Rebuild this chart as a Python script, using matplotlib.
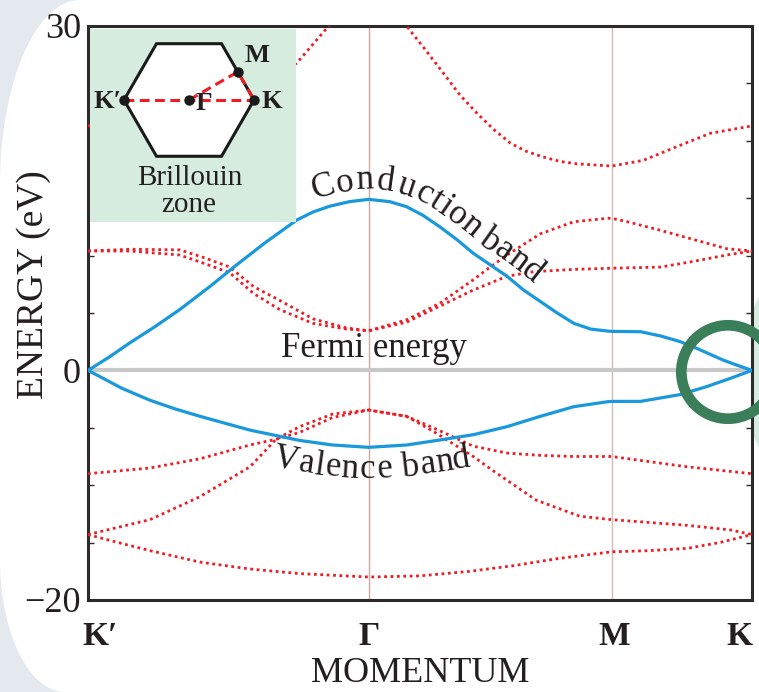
import numpy as np
import matplotlib
matplotlib.use("Agg")
import matplotlib.pyplot as plt
from matplotlib.patches import Polygon, Circle
from matplotlib.transforms import IdentityTransform, offset_copy

plt.rcParams['font.family'] = ['Liberation Serif', 'DejaVu Serif']

# high-symmetry points along the path, |Gamma-K| = 1
sym_k = [0.0, 1.0, 1.866, 2.366]
sym_labels = ['K\u2032', '\u0393', 'M', 'K']
y_ticks = [-20, -15, -10, -5, 0, 5, 10, 15, 20, 25, 30]
y_labels = ['\u221220', '', '', '', '0', '', '', '', '', '', '30']

# pi* band (conduction)
cond_k = [0, 0.078, 0.149, 0.238, 0.327, 0.434, 0.530, 0.630, 0.744, 0.802, 0.861, 0.932, 1.0,
          1.075, 1.135, 1.194, 1.254, 1.314, 1.373, 1.433, 1.493, 1.552, 1.612, 1.672, 1.731,
          1.791, 1.851, 1.866, 1.969, 2.040, 2.111, 2.171, 2.217, 2.263, 2.313, 2.366]
cond_e = [0, 1.2, 2.4, 3.8, 5.3, 7.3, 9.2, 11.1, 13.1, 13.8, 14.3, 14.7, 14.9,
          14.7, 14.26, 13.5, 12.5, 11.4, 10.2, 9.2, 8.2, 7.0, 6.0, 5.0, 4.1,
          3.6, 3.43, 3.4, 3.37, 3.0, 2.5, 1.9, 1.4, 0.9, 0.45, 0]

# pi band (valence)
val_k = [0, 0.043, 0.12, 0.221, 0.31, 0.399, 0.577, 0.754, 0.872, 1.0, 1.135, 1.254, 1.373,
         1.493, 1.612, 1.731, 1.851, 1.866, 1.969, 2.111, 2.206, 2.288, 2.366]
val_e = [0, -0.55, -1.55, -2.6, -3.35, -4.0, -5.2, -6.1, -6.5, -6.7, -6.5, -6.06, -5.6,
         -4.9, -4.0, -3.16, -2.73, -2.7, -2.7, -2.1, -1.4, -0.7, 0]

# other (sigma) bands, dotted
band_a_k = [0, 0.1, 0.221, 0.399, 0.577, 0.754, 1.0, 1.182, 1.361, 1.519, 1.671, 1.866,
            2.0, 2.136, 2.25, 2.366]
band_a_e = [-14.3, -14.95, -15.7, -16.7, -17.3, -17.7, -18.0, -17.9, -17.5, -17.0, -16.4, -15.8,
            -15.7, -15.5, -15.0, -14.3]

band_b_k = [0, 0.221, 0.399, 0.577, 0.67, 0.754, 0.872, 1.0, 1.135, 1.230, 1.373, 1.441,
            1.597, 1.752, 1.866, 2.136, 2.290, 2.366]
band_b_e = [-14.3, -13.0, -11.0, -8.4, -6.0, -4.9, -3.8, -3.45, -4.0, -5.3, -7.5, -8.7,
            -11.3, -12.7, -13.0, -13.5, -13.9, -14.3]

band_c_k = [0, 0.221, 0.399, 0.577, 0.67, 0.754, 0.872, 1.0, 1.135, 1.230, 1.373, 1.493,
            1.612, 1.731, 1.866, 2.136, 2.290, 2.366]
band_c_e = [-9.0, -8.5, -7.7, -6.5, -6.0, -5.4, -4.1, -3.45, -4.0, -5.0, -6.6, -7.2,
            -7.4, -7.5, -7.5, -8.4, -8.8, -9.0]

band_d_k = [0, 0.149, 0.327, 0.416, 0.505, 0.59, 0.683, 0.801, 0.921, 1.0, 1.135, 1.254,
            1.373, 1.433, 1.493, 1.612, 1.731, 1.851, 1.866, 1.922, 2.040, 2.158, 2.276, 2.366]
band_d_e = [10.4, 10.55, 10.5, 9.8, 9.0, 7.3, 6.1, 4.5, 3.7, 3.45, 4.4, 5.85,
            7.9, 9.0, 10.05, 11.9, 12.95, 13.25, 13.25, 12.95, 12.2, 11.4, 10.6, 10.4]

band_e_k = [0, 0.149, 0.327, 0.416, 0.505, 0.59, 0.683, 0.801, 0.921, 1.0, 1.135, 1.254,
            1.373, 1.493, 1.588, 1.731, 1.866, 2.040, 2.158, 2.276, 2.366]
band_e_e = [10.4, 10.4, 10.05, 9.3, 8.5, 6.7, 5.3, 4.1, 3.6, 3.45, 4.2, 5.6,
            7.0, 8.2, 8.6, 8.8, 8.9, 9.0, 9.5, 10.05, 10.4]

band_f_k = [0, 0.2, 0.4, 0.6, 0.743, 0.861, 1.0, 1.135, 1.2, 1.266, 1.325, 1.386, 1.445,
            1.505, 1.56, 1.62, 1.683, 1.74, 1.802, 1.866, 1.979, 2.099, 2.217, 2.366]
band_f_e = [21.3, 21.8, 23.0, 25.0, 26.75, 30.1, 33.5, 30.0, 28.0, 25.9, 24.0, 22.4, 21.0,
            19.8, 19.1, 18.6, 18.2, 18.0, 17.9, 17.8, 18.3, 19.5, 20.65, 21.3]

dotted_bands = [(band_a_k, band_a_e), (band_b_k, band_b_e), (band_c_k, band_c_e),
                (band_d_k, band_d_e), (band_e_k, band_e_e), (band_f_k, band_f_e)]

W, H = 759, 692
TEXT = '#231f20'
BLUE = '#1a98dc'
RED = '#ef1c24'
PALE_GREEN = '#d6ecdf'


def PixelRect(x0, y0, x1, y1):
    # box in image pixels (origin top-left) -> figure fraction
    return [x0 / W, 1 - y1 / H, (x1 - x0) / W, (y1 - y0) / H]


def CurvedText(fig, ax, text, xs, ys, kStart, offset, size):
    renderer = fig.canvas.get_renderer()
    pts = ax.transData.transform(np.column_stack([xs, ys]))
    arc = np.concatenate([[0], np.cumsum(np.hypot(np.diff(pts[:, 0]), np.diff(pts[:, 1])))])
    s = np.interp(kStart, xs, arc)
    for ch in text:
        t = fig.text(0, 0, ch, fontsize=size, color=TEXT, ha='center', va='baseline',
                     rotation_mode='anchor', transform=IdentityTransform(), zorder=6)
        if ch == ' ':
            w = 0.25 * size * fig.dpi / 72
        else:
            w = t.get_window_extent(renderer).width
        mid = s + w / 2
        px = np.interp(mid, arc, pts[:, 0])
        py = np.interp(mid, arc, pts[:, 1])
        dx = np.interp(mid + 10, arc, pts[:, 0]) - np.interp(mid - 10, arc, pts[:, 0])
        dy = np.interp(mid + 10, arc, pts[:, 1]) - np.interp(mid - 10, arc, pts[:, 1])
        ang = np.arctan2(dy, dx)
        t.set_position((px - offset * np.sin(ang), py + offset * np.cos(ang)))
        t.set_rotation(np.degrees(ang))
        s += w


fig = plt.figure(figsize=(W / 100, H / 100), dpi=100)

# page background: pale blue-grey rounded edge on the left, green wedge on the right
bg = fig.add_axes([0, 0, 1, 1], zorder=-5)
bg.set_xlim(0, W)
bg.set_ylim(H, 0)
bg.axis('off')
th = np.linspace(np.pi / 2, np.pi, 40)
topArc = np.column_stack([80 + 80 * np.cos(th), 185 - 185 * np.sin(th)])
th2 = np.linspace(np.pi, np.pi / 2, 40)
botArc = np.column_stack([65 + 65 * np.cos(th2), 560 + 132 * np.sin(th2)])
edge = np.vstack([[[0, 0]], topArc, botArc, [[0, H]]])
bg.add_patch(Polygon(edge, closed=True, fc='#e4e9f0', ec='none'))
bg.add_patch(Polygon([[752, 312], [759, 296], [759, 448], [752, 432]], closed=True,
                     fc=PALE_GREEN, ec='none'))

# main band-structure axes
ax = fig.add_axes(PixelRect(88, 26, 752, 600))
ax.set_xlim(sym_k[0], sym_k[-1])
ax.set_ylim(-20, 30)

ax.axvline(sym_k[1], color='#d3a89c', lw=1.0, zorder=1)
ax.axvline(sym_k[2], color='#cfbdb3', lw=1.0, zorder=1)
ax.axhline(0, color='#c8c8c8', lw=3.0, zorder=2)

for bk, be in dotted_bands:
    ax.plot(bk, be, color=RED, lw=2.0, linestyle=(0, (1, 1.3)), zorder=3)
ax.plot(cond_k, cond_e, color=BLUE, lw=2.3, zorder=4)
ax.plot(val_k, val_e, color=BLUE, lw=2.3, zorder=4)

for s in ax.spines.values():
    s.set_linewidth(2.2)
    s.set_color('#2d2a2a')

ax.set_yticks(y_ticks, y_labels)
ax.tick_params(axis='y', which='both', direction='in', length=4.5, width=1.0,
               right=True, labelsize=26, pad=5, labelcolor=TEXT, color='#2d2a2a')
ax.set_xticks([])

lblTrans = ax.get_xaxis_transform()
label_nudge = [12, 0, 3, -13]
for kk, lab, dx in zip(sym_k, sym_labels, label_nudge):
    tr = offset_copy(lblTrans, fig=fig, x=dx, y=0, units='dots')
    ax.text(kk, -0.0784, lab, transform=tr, ha='center', va='baseline',
            fontsize=24, fontweight='bold', color=TEXT, clip_on=False)

ax.set_xlabel('MOMENTUM', fontsize=26, color=TEXT)
ax.xaxis.set_label_coords(0.5, -0.1429)
ax.xaxis.label.set_verticalalignment('baseline')
ax.set_ylabel('ENERGY (eV)', fontsize=27, color=TEXT)
ax.yaxis.set_label_coords(-0.0557, 0.549)

ax.text(1.02, 1.15, 'Fermi energy', fontsize=25, color=TEXT, ha='center', va='baseline',
        zorder=5)

# Brillouin zone inset
ins = fig.add_axes(PixelRect(90, 29, 296, 222), zorder=5)
ins.set_facecolor(PALE_GREEN)
ins.set_xlim(-1.523, 1.646)
ins.set_ylim(-1.877, 1.092)
ins.set_xticks([])
ins.set_yticks([])
for s in ins.spines.values():
    s.set_visible(False)
hexAng = np.deg2rad(np.arange(0, 360, 60))
ins.add_patch(Polygon(np.column_stack([np.cos(hexAng), np.sin(hexAng)]), closed=True,
                      fc='white', ec='#1a1a1a', lw=2.2))
bz_x = {'K\u2032': -1.0, '\u0393': 0.0, 'M': 0.75, 'K': 1.0}
bz_y = {'K\u2032': 0.0, '\u0393': 0.0, 'M': 0.433, 'K': 0.0}
ins.plot([bz_x['K\u2032'], bz_x['K']], [0, 0], color=RED, lw=2.2, dashes=(3.2, 1.8))
ins.plot([bz_x['\u0393'], bz_x['M'], bz_x['K']], [bz_y['\u0393'], bz_y['M'], bz_y['K']],
         color=RED, lw=2.2, dashes=(3.2, 1.8))
ins.plot(list(bz_x.values()), list(bz_y.values()), 'o', color='#1a1a1a', ms=6.5, zorder=5)
bz_lab_pos = {'K\u2032': (-1.26, -0.03), '\u0393': (0.23, -0.06), 'M': (1.04, 0.69),
              'K': (1.27, -0.02)}
for lab, (lx, ly) in bz_lab_pos.items():
    ins.text(lx, ly, lab, fontsize=19, fontweight='bold', color=TEXT, ha='center',
             va='center', zorder=6)
ins.text(0.01, -1.2, 'Brillouin', fontsize=21, color=TEXT, ha='center', va='center')
ins.text(0.0, -1.62, 'zone', fontsize=21, color=TEXT, ha='center', va='center')

# curved band names
CurvedText(fig, ax, 'Conduction band', cond_k, cond_e, 0.819, 11, 25)
CurvedText(fig, ax, 'Valence band', val_k, val_e, 0.676, -31, 25)

# highlight ring around the Dirac point
ov = fig.add_axes([0, 0, 1, 1], zorder=10)
ov.set_xlim(0, W)
ov.set_ylim(H, 0)
ov.axis('off')
ov.patch.set_alpha(0)
ov.add_patch(Circle((728, 372), 46.7, fill=False, lw=7.7, ec='#3b7f5a'))

fig.savefig('out.png', dpi=100)
